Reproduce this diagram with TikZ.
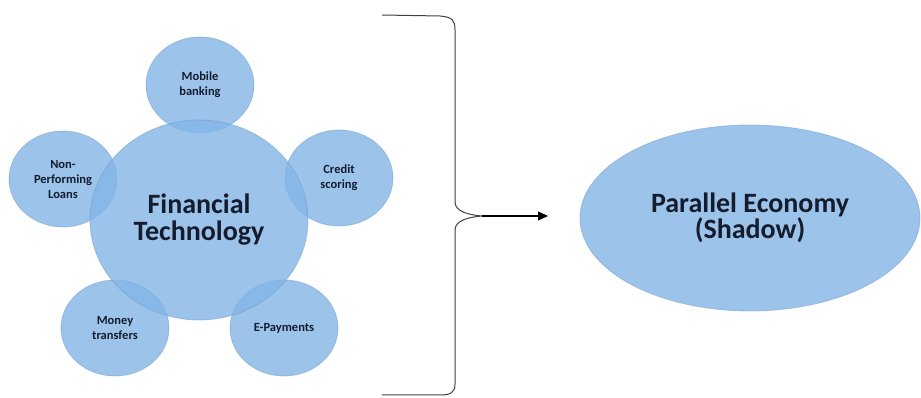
\documentclass[tikz,border=0pt]{standalone}
\usepackage{fontspec}
\setmainfont{Carlito}
\usetikzlibrary{shapes.geometric,arrows.meta}

\definecolor{ballblue}{RGB}{131,181,230}
\definecolor{rimblue}{RGB}{110,155,205}
\definecolor{inkblue}{RGB}{20,28,45}

\begin{document}
\begin{tikzpicture}[x=1pt,y=1pt,
    ball/.style={ellipse,fill=ballblue,fill opacity=0.8,draw=rimblue,draw opacity=0.5,
      line width=0.8pt,text opacity=1,text=inkblue,inner sep=0pt,align=center},
    smallball/.style={ball,minimum width=108pt,minimum height=96pt,
      font=\bfseries\fontsize{12.5}{15}\selectfont},
    bigball/.style={ball,minimum width=218pt,minimum height=200pt,
      font=\bfseries\fontsize{28}{27}\selectfont},
    brace/.style={draw=black!75,line width=1pt}]
  \useasboundingbox (0,0) rectangle (921,398);

  % satellites first, centre on top
  \node[smallball] (mobile) at (200,313) {Mobile\\banking};
  \node[smallball] (credit) at (339,220) {Credit\\scoring};
  \node[smallball] (npl) at (63,219) {Non-\\Performing\\Loans};
  \node[smallball] (money) at (115,70) {Money\\transfers};
  \node[smallball] (epay) at (284,70) {E-Payments};
  \node[bigball] (fintech) at (199,178) {Financial\\Technology};

  \node[ball,minimum width=340pt,minimum height=186pt,
    font=\bfseries\fontsize{28}{26}\selectfont] (shadow) at (750,180) {Parallel Economy\\(Shadow)};

  % brace
  \coordinate (tip) at (482,182);
  \coordinate (aim) at (548,182);
  \draw[brace] (382,383) -- (440,382) .. controls (452,381) and (455,378) .. (455,368)
    -- (455,196) .. controls (455,186) and (470,183) .. (tip)
    .. controls (470,181) and (455,178) .. (455,168)
    -- (455,14) .. controls (455,5) and (450,3) .. (440,3) -- (382,3);
  \draw[line width=1.2pt,-{Triangle[length=10pt,width=9pt]}] (tip) -- (aim);
\end{tikzpicture}
\end{document}
